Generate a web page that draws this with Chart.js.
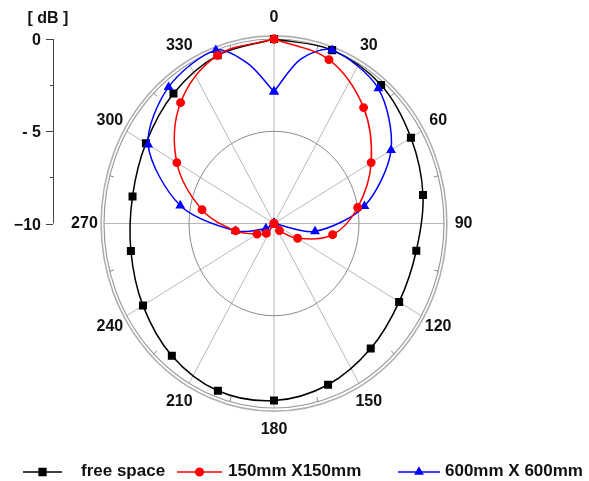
<!DOCTYPE html>
<html>
<head>
<meta charset="utf-8">
<script src="https://cdn.jsdelivr.net/npm/chart.js@4/dist/chart.umd.min.js"></script>
<style>
  html, body { margin: 0; padding: 0; background: #fff; }
  canvas { display: block; }
</style>
</head>
<body>
<canvas id="polarCanvas" width="589" height="481"></canvas>
<script>
// radiation patterns, dB relative to maximum, angle in degrees
const angles = [0, 20, 40, 60, 80, 100, 120, 140, 160, 180, 200, 220, 240, 260, 280, 300, 320, 340];
const freeSpace = [0, 0, -0.2, -0.7, -1.1, -1.5, -1.5, -1.15, -0.7, -0.4, -0.35, -0.65, -1.1, -1.45, -1.55, -1.3, -0.8, -0.3];
const plate150 = [0, -0.55, -1.8, -3.4, -5.0, -6.5, -8.4, -9.5, -10, -10, -10, -9.3, -8.85, -7.7, -5.7, -3.4, -1.45, -0.3];
const plate600Angles = [0, 10, 20, 40, 60, 80, 100, 120, 140, 160, 180, 200, 220, 240, 260, 280, 300, 320, 340, 350];
const plate600 = [-2.85, -0.95, 0, -0.45, -2.05, -4.6, -7.55, -10, -10, -10, -10, -10, -10, -9.45, -7.7, -4.4, -1.45, -0.35, 0, -1.2];

const angleTicks = [0, 30, 60, 90, 120, 150, 180, 210, 240, 270, 300, 330];
const dbTicks = [0, -5, -10];
const dbTickLabels = ["0", "- 5", "\u221210"];
const dbMin = -10;
const seriesNames = ["free space", "150mm X150mm", "600mm X 600mm"];

const FONT = 'bold 16px "Liberation Sans", Arial, sans-serif';
const LEGEND_FONT = 'bold 17px "Liberation Sans", Arial, sans-serif';

function toXY(angle, db) {
  const r = Math.max(0, db - dbMin);
  const t = (angle * Math.PI) / 180;
  return { x: r * Math.sin(t), y: r * Math.cos(t) };
}

function ring(angs, vals) {
  const pts = angs.map((a, i) => toXY(a, vals[i]));
  pts.push(pts[0]);
  return pts;
}

const polarGrid = {
  id: "polarGrid",
  beforeDatasetsDraw(chart) {
    const { ctx } = chart;
    const xs = chart.scales.x, ys = chart.scales.y;
    const cx = xs.getPixelForValue(0), cy = ys.getPixelForValue(0);
    const ellipse = (r) => {
      ctx.beginPath();
      ctx.ellipse(cx, cy, xs.getPixelForValue(r) - cx, cy - ys.getPixelForValue(r), 0, 0, Math.PI * 2);
      ctx.stroke();
    };
    const pt = (a, r) => {
      const p = toXY(a, r + dbMin);
      return [xs.getPixelForValue(p.x), ys.getPixelForValue(p.y)];
    };
    ctx.save();
    // spokes
    ctx.strokeStyle = "#b8b8b8";
    ctx.lineWidth = 1;
    angleTicks.forEach((a) => {
      ctx.beginPath();
      ctx.moveTo(cx, cy);
      ctx.lineTo(...pt(a, 10));
      ctx.stroke();
    });
    // -5 dB ring
    ctx.strokeStyle = "#8a8a8a";
    ellipse(5);
    // 0 dB ring + frame
    ctx.strokeStyle = "#9a9a9a";
    ctx.lineWidth = 1.2;
    ellipse(10);
    ctx.strokeStyle = "#b0b0b0";
    ctx.lineWidth = 1.6;
    ellipse(10.17);
    // minor ticks between spokes
    ctx.strokeStyle = "#888";
    ctx.lineWidth = 1;
    angleTicks.forEach((a) => {
      ctx.beginPath();
      ctx.moveTo(...pt(a + 15, 10));
      ctx.lineTo(...pt(a + 15, 9.75));
      ctx.stroke();
    });
    // angle labels
    ctx.fillStyle = "#111";
    ctx.font = FONT;
    ctx.textAlign = "center";
    ctx.textBaseline = "middle";
    angleTicks.forEach((a) => {
      ctx.fillText(String(a), ...pt(a, 11.15));
    });
    ctx.restore();
  },
  afterDraw(chart) {
    const { ctx } = chart;
    const ys = chart.scales.y;
    ctx.save();
    // dB axis on the left
    const axX = 53;
    ctx.strokeStyle = "#444";
    ctx.lineWidth = 1;
    ctx.beginPath();
    ctx.moveTo(axX + 0.5, ys.getPixelForValue(0 - dbMin));
    ctx.lineTo(axX + 0.5, ys.getPixelForValue(-10 - dbMin));
    ctx.stroke();
    [-2.5, -7.5].forEach((v) => {
      const py = Math.round(ys.getPixelForValue(v - dbMin)) + 0.5;
      ctx.beginPath();
      ctx.moveTo(axX - 3, py);
      ctx.lineTo(axX, py);
      ctx.stroke();
    });
    ctx.fillStyle = "#111";
    ctx.font = FONT;
    ctx.textAlign = "right";
    ctx.textBaseline = "middle";
    dbTicks.forEach((v, i) => {
      const py = Math.round(ys.getPixelForValue(v - dbMin)) + 0.5;
      ctx.beginPath();
      ctx.moveTo(axX - 7, py);
      ctx.lineTo(axX, py);
      ctx.stroke();
      ctx.fillText(dbTickLabels[i], 41, py + 1);
    });
    ctx.textAlign = "center";
    ctx.fillText("[ dB ]", 48, 19);

    // legend
    const lineStart = [23, 177, 398];
    const lineLen = [39, 45, 42];
    const textX = [81, 228, 445];
    const ly = 472;
    ctx.font = LEGEND_FONT;
    chart.data.datasets.forEach((ds, i) => {
      ctx.strokeStyle = ds.borderColor;
      ctx.lineWidth = 1.5;
      ctx.beginPath();
      ctx.moveTo(lineStart[i], ly);
      ctx.lineTo(lineStart[i] + lineLen[i], ly);
      ctx.stroke();
      Chart.helpers.drawPoint(ctx, {
        pointStyle: ds.pointStyle,
        radius: ds.legendRadius,
        borderWidth: 1,
        rotation: 0
      }, lineStart[i] + lineLen[i] / 2, ly);
      ctx.fillStyle = ds.pointBackgroundColor;
      ctx.fill();
      ctx.fillStyle = "#111";
      ctx.textAlign = "left";
      ctx.fillText(ds.label, textX[i], ly - 1);
    });
    ctx.restore();
  }
};

const markerEvery20 = (c) => (plate600Angles[c.dataIndex % plate600Angles.length] % 20 === 0 ? 4.2 : 0);

new Chart(document.getElementById("polarCanvas"), {
  type: "scatter",
  data: {
    datasets: [
      {
        label: seriesNames[0],
        data: ring(angles, freeSpace),
        borderColor: "#000000",
        backgroundColor: "#000000",
        pointBackgroundColor: "#000000",
        pointStyle: "rect",
        pointRadius: 4.6,
        legendRadius: 4.8,
        borderWidth: 1.5,
        showLine: true,
        tension: 0.35,
        clip: false,
        order: 2
      },
      {
        label: seriesNames[1],
        data: ring(angles, plate150),
        borderColor: "#ff0000",
        backgroundColor: "#ff0000",
        pointBackgroundColor: "#ff0000",
        pointStyle: "circle",
        pointRadius: 3.7,
        legendRadius: 3.8,
        borderWidth: 1.5,
        showLine: true,
        tension: 0.35,
        clip: false,
        order: 0
      },
      {
        label: seriesNames[2],
        data: ring(plate600Angles, plate600),
        borderColor: "#0000ff",
        backgroundColor: "#0000ff",
        pointBackgroundColor: "#0000ff",
        pointStyle: "triangle",
        pointRadius: markerEvery20,
        legendRadius: 4.2,
        borderWidth: 1.5,
        showLine: true,
        tension: 0.3,
        clip: false,
        order: 1
      }
    ]
  },
  options: {
    responsive: false,
    animation: false,
    layout: { padding: { left: 104, right: 145, top: 39, bottom: 73 } },
    plugins: { legend: { display: false }, tooltip: { enabled: false } },
    scales: {
      x: { type: "linear", min: -10, max: 10, display: false },
      y: { type: "linear", min: -10, max: 10, display: false }
    }
  },
  plugins: [polarGrid]
});
</script>
</body>
</html>
